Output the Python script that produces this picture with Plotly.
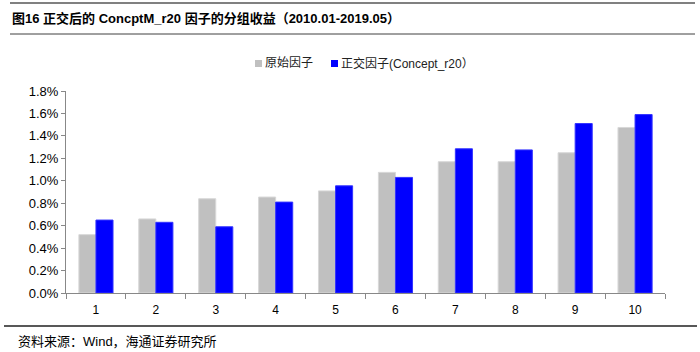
import plotly.graph_objects as go

groups = ["1", "2", "3", "4", "5", "6", "7", "8", "9", "10"]
raw_factor = [0.52, 0.66, 0.84, 0.855, 0.91, 1.075, 1.17, 1.17, 1.25, 1.475]
orth_factor = [0.65, 0.63, 0.59, 0.81, 0.955, 1.03, 1.285, 1.275, 1.51, 1.59]
y_ticks = [0.0, 0.2, 0.4, 0.6, 0.8, 1.0, 1.2, 1.4, 1.6, 1.8]
y_labels = ["0.0%", "0.2%", "0.4%", "0.6%", "0.8%", "1.0%", "1.2%", "1.4%", "1.6%", "1.8%"]
series_names = ["原始因子", "正交因子(Concept_r20）"]
series_colors = ["#C0C0C0", "#0000FF"]

W, H = 700, 352
L, R, T, B = 66, 35, 91, 59
PH = H - T - B
PW = W - L - R

def py(p):
    return (H - B - p) / PH

def px(p):
    return (p - L) / PW

fig = go.Figure()
fig.add_trace(go.Bar(x=groups, y=raw_factor, name=series_names[0],
                     marker=dict(color=series_colors[0], line=dict(color="#D8D8D8", width=1))))
fig.add_trace(go.Bar(x=groups, y=orth_factor, name=series_names[1],
                     marker=dict(color=series_colors[1], line=dict(color="#3333FF", width=1))))

# manual legend (compact, like the reference)
legend_x = [255, 331]
shapes = []
annotations = []
for i, (nm, col) in enumerate(zip(series_names, series_colors)):
    x0 = legend_x[i]
    shapes.append(dict(type="rect", xref="paper", yref="paper",
                       x0=px(x0), x1=px(x0 + 7), y0=py(67), y1=py(60),
                       fillcolor=col, line=dict(width=0)))
    annotations.append(dict(text=nm, xref="paper", yref="paper", x=px(x0 + 8), y=py(63),
                            xanchor="left", yanchor="middle", showarrow=False,
                            font=dict(size=12, family="Liberation Sans, Arial, Noto Sans CJK SC",
                                      color="#222222")))

shapes += [
    dict(type="line", xref="paper", yref="paper", x0=px(10), x1=px(695), y0=py(3), y1=py(3),
         line=dict(color="#808080", width=2)),
    dict(type="line", xref="paper", yref="paper", x0=px(10), x1=px(695), y0=py(34), y1=py(34),
         line=dict(color="#404040", width=1)),
    dict(type="line", xref="paper", yref="paper", x0=px(4), x1=px(697), y0=py(326), y1=py(326),
         line=dict(color="#202020", width=1.5)),
]
annotations += [
    dict(text="<b>图16 正交后的 ConcptM_r20 因子的分组收益（2010.01-2019.05）</b>",
         xref="paper", yref="paper", x=px(10), y=py(19), xanchor="left", yanchor="middle",
         showarrow=False, font=dict(size=13, family="Liberation Sans, Arial, Noto Sans CJK SC",
                                    color="#000000")),
    dict(text="资料来源：Wind，海通证券研究所",
         xref="paper", yref="paper", x=px(16), y=py(341), xanchor="left", yanchor="middle",
         showarrow=False, font=dict(size=13, family="Liberation Sans, Arial, Noto Sans CJK SC",
                                    color="#000000")),
]

fig.update_layout(
    width=W, height=H,
    margin=dict(l=L, r=R, t=T, b=B),
    paper_bgcolor="white", plot_bgcolor="white",
    barmode="group", bargap=0.43, bargroupgap=0,
    font=dict(family="Arial, Liberation Sans, Noto Sans CJK SC", color="#000000"),
    showlegend=False,
    xaxis=dict(type="category", showline=True, linecolor="#888888", linewidth=1,
               ticks="outside", tickson="boundaries", ticklen=5, tickcolor="#888888",
               ticklabelstandoff=6,
               tickfont=dict(size=12, family="Arial, Liberation Sans"), showgrid=False),
    yaxis=dict(range=[0, 1.8], tickvals=y_ticks, ticktext=y_labels,
               showline=True, linecolor="#888888", linewidth=1,
               ticks="outside", ticklen=4, tickcolor="#888888",
               tickfont=dict(size=13, family="Arial, Liberation Sans"),
               showgrid=False, zeroline=False),
    shapes=shapes,
    annotations=annotations,
)

fig.write_html("out.html")
